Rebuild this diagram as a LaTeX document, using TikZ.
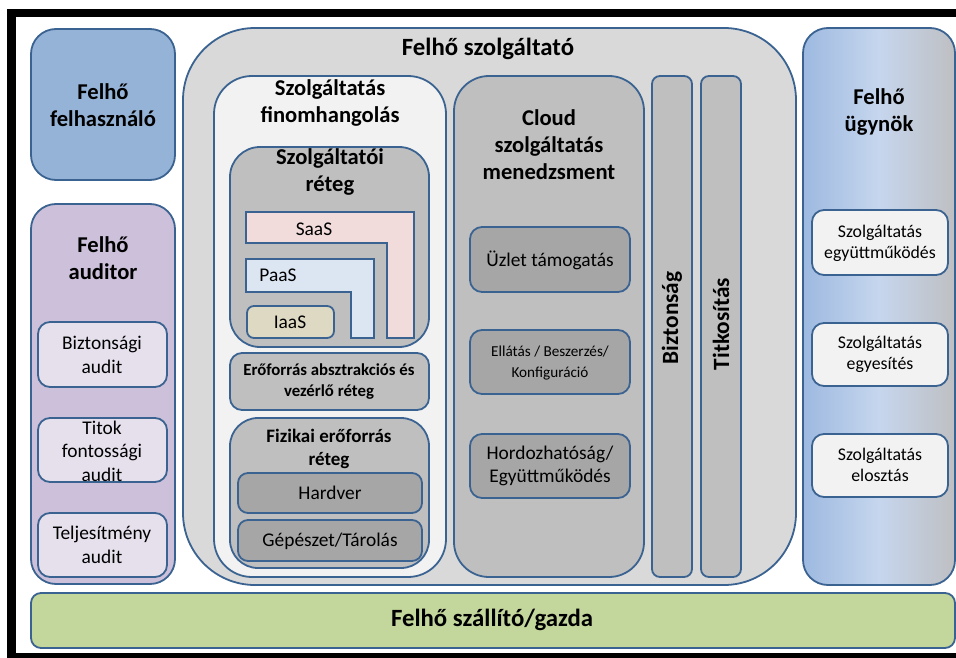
\documentclass[tikz,border=0pt]{standalone}
\usepackage{fontspec}
\setmainfont{Carlito}
\definecolor{edge}{HTML}{3B6391}
\definecolor{userfill}{HTML}{95B3D7}
\definecolor{auditfill}{HTML}{CCC0DA}
\definecolor{auditinner}{HTML}{E5E0EC}
\definecolor{provfill}{HTML}{D9D9D9}
\definecolor{tunefill}{HTML}{F2F2F2}
\definecolor{midgray}{HTML}{BFBFBF}
\definecolor{darkgray}{HTML}{A6A6A6}
\definecolor{saasfill}{HTML}{F2DCDB}
\definecolor{paasfill}{HTML}{DCE6F2}
\definecolor{iaasfill}{HTML}{DDD9C3}
\definecolor{carrierfill}{HTML}{C3D69B}
\definecolor{brokerA}{HTML}{9DB9E0}
\definecolor{brokerB}{HTML}{C6D6EE}
\definecolor{brokerC}{HTML}{BEBFC2}
\tikzset{
  panelbase/.style={draw=edge, line width=1.8pt, rectangle, inner sep=0pt, outer sep=0pt},
  title/.style={font=\fontsize{22.6}{27}\selectfont\bfseries, align=center, inner sep=0pt},
  huge/.style={font=\fontsize{24.8}{29}\selectfont\bfseries, align=center, inner sep=0pt},
  sub/.style={font=\fontsize{19}{23}\selectfont\bfseries, align=center, inner sep=0pt},
  small/.style={font=\fontsize{16.8}{21}\selectfont\bfseries, align=center, inner sep=0pt},
  vert/.style={font=\fontsize{23.3}{27}\selectfont\bfseries, align=center, inner sep=0pt, rotate=90},
  item/.style={font=\fontsize{19.4}{23.5}\selectfont, align=center, inner sep=0pt},
  itemsm/.style={font=\fontsize{17.8}{21}\selectfont, align=center, inner sep=0pt},
  itemxs/.style={font=\fontsize{15.2}{21}\selectfont, align=center, inner sep=0pt},
}
% \panel[style]{name}{x1}{y1}{x2}{y2}: a box given by its corners
\newcommand\panel[6][]{%
  \node[panelbase,#1,minimum width={#5-#3},minimum height={#6-#4}]
    (#2) at ({(#3+#5)/2},{(#4+#6)/2}) {};}
\begin{document}
\begin{tikzpicture}[x=1pt,y=-1pt]
\useasboundingbox (0,0) rectangle (956,658);
\clip (0,0) rectangle (956,658);
\fill[white] (0,0) rectangle (956,658);
% outer black frame
\draw[line width=8.5pt] (11.5,13) rectangle (990,657.5);

% left column
\panel[fill=userfill, rounded corners=25pt]{user}{31}{29}{175}{180}
\node[title] (tUser) at (103,105) {Felhő\\felhasználó};

\panel[fill=auditfill, rounded corners=25pt]{auditor}{31}{204}{175}{584}
\node[title] (tAuditor) at (103,258) {Felhő\\auditor};
\panel[fill=auditinner, rounded corners=12pt]{aSec}{38}{322}{167}{387}
\node[item] (tSec) at (102,355) {Biztonsági\\audit};
\panel[fill=auditinner, rounded corners=12pt]{aPriv}{38}{418}{167}{482}
\node[item] (tPriv) at (102,451) {Titok\\fontossági\\audit};
\panel[fill=auditinner, rounded corners=12pt]{aPerf}{38}{513}{167}{577}
\node[item] (tPerf) at (102,545) {Teljesítmény\\audit};

% provider
\panel[fill=provfill, rounded corners=72pt]{prov}{183}{28}{796}{585}
\node[huge] (tProv) at (488,49) {Felhő szolgáltató};

\panel[fill=tunefill, rounded corners=38pt]{tune}{214}{76}{446}{577}
\node[title] (tTune) at (330,103) {Szolgáltatás\\finomhangolás};

\panel[fill=midgray, rounded corners=30pt]{layer}{230}{147}{429}{347}
\node[title] (tLayer) at (330,172) {Szolgáltatói\\réteg};

\fill[saasfill, draw=edge, line width=1.8pt]
  (246,212) -- (414,212) -- (414,338) -- (387,338) -- (387,243) -- (246,243) -- cycle;
\node[item] (tSaaS) at (314,229) {SaaS};
\fill[paasfill, draw=edge, line width=1.8pt]
  (246,259) -- (374,259) -- (374,338) -- (351,338) -- (351,292) -- (246,292) -- cycle;
\node[item] (tPaaS) at (278,275) {PaaS};
\panel[fill=iaasfill, rounded corners=7pt]{iaas}{247}{306}{334}{338}
\node[item] (tIaaS) at (290,322) {IaaS};

\panel[fill=midgray, rounded corners=12pt]{abstr}{230}{353}{429}{410}
\node[small] (tAbstr) at (329,382) {Erőforrás absztrakciós és\\vezérlő réteg};

\panel[fill=midgray, rounded corners=28pt]{phys}{230}{418}{429}{568}
\node[sub] (tPhys) at (329,449) {Fizikai erőforrás\\réteg};
\panel[fill=darkgray, rounded corners=10pt]{hw}{238}{473}{422}{513}
\node[item] (tHw) at (330,493) {Hardver};
\panel[fill=darkgray, rounded corners=10pt]{fac}{238}{520}{422}{561}
\node[item] (tFac) at (330,541) {Gépészet/Tárolás};

\panel[fill=midgray, rounded corners=35pt]{mgmt}{454}{76}{644}{577}
\node[title] (tMgmt) at (549,145) {Cloud\\szolgáltatás\\menedzsment};
\panel[fill=darkgray, rounded corners=12pt]{biz}{470}{227}{630}{292}
\node[item] (tBiz) at (550,260) {Üzlet támogatás};
\panel[fill=darkgray, rounded corners=12pt]{prov2}{470}{330}{630}{394}
\node[itemxs] (tProv2) at (550,363) {Ellátás / Beszerzés/\\Konfiguráció};
\panel[fill=darkgray, rounded corners=12pt]{port}{470}{434}{630}{498}
\node[item] (tPort) at (550,466) {Hordozhatóság/\\Együttműködés};

\panel[fill=midgray, rounded corners=8pt]{secbar}{652}{76}{692}{577}
\node[vert] (tSecbar) at (672,318) {Biztonság};
\panel[fill=midgray, rounded corners=8pt]{encbar}{701}{76}{741}{577}
\node[vert] (tEncbar) at (721,324) {Titkosítás};

% broker
\panel[left color=brokerA, right color=brokerC, middle color=brokerB, rounded corners=25pt]{broker}{803}{28}{955}{585}
\node[title] (tBroker) at (879,112) {Felhő\\ügynök};
\panel[fill=tunefill, rounded corners=12pt]{bInt}{812}{210}{948}{275}
\node[itemsm] (tInt) at (880,243) {Szolgáltatás\\együttműködés};
\panel[fill=tunefill, rounded corners=12pt]{bAgg}{812}{323}{948}{386}
\node[itemsm] (tAgg) at (880,354) {Szolgáltatás\\egyesítés};
\panel[fill=tunefill, rounded corners=12pt]{bArb}{812}{434}{948}{497}
\node[itemsm] (tArb) at (880,465) {Szolgáltatás\\elosztás};

% carrier
\panel[fill=carrierfill, rounded corners=10pt]{carrier}{31}{593}{955}{648}
\node[huge] (tCarrier) at (492,620) {Felhő szállító/gazda};
\end{tikzpicture}
\end{document}
